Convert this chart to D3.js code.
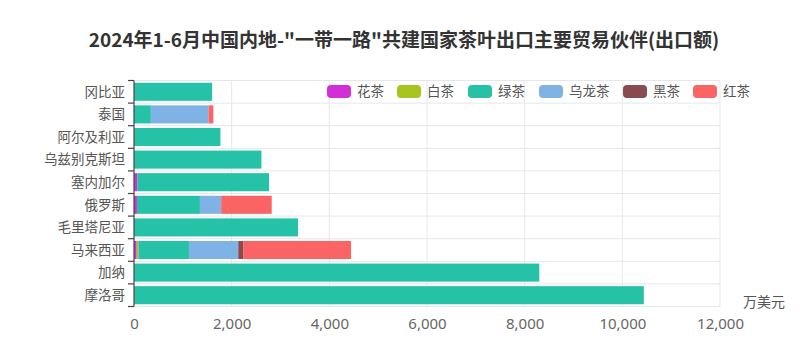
<!DOCTYPE html>
<html><head><meta charset="utf-8">
<script src="https://cdn.jsdelivr.net/npm/d3@7"></script>
<style>body{margin:0;background:#fff}svg{display:block;font-family:"Noto Sans CJK SC","Noto Sans",sans-serif}</style>
</head><body><svg id="c" width="800" height="358"></svg>
<script>
const categories = ["冈比亚","泰国","阿尔及利亚","乌兹别克斯坦","塞内加尔","俄罗斯","毛里塔尼亚","马来西亚","加纳","摩洛哥"];
const seriesNames = ["花茶","白茶","绿茶","乌龙茶","黑茶","红茶"];
const seriesColors = ["#d22fd6","#a8c41f","#25c2a8","#7fb3e6","#8a4b50","#fa6464"];
const huaCha   = [0,   0,    0,    0,    65,   60,   0,    55,   0,    0];
const baiCha   = [0,   0,    0,    0,    0,    0,    0,    35,   0,    0];
const lvCha    = [1600,345,  1770, 2610, 2700, 1290, 3360, 1035, 8300, 10440];
const wulongCha= [0,   1180, 0,    0,    0,    435,  0,    1010, 0,    0];
const heiCha   = [0,   0,    0,    0,    0,    0,    0,    100,  0,    0];
const hongCha  = [0,   100,  0,    0,    0,    1035, 0,    2210, 0,    0];
const xTicks = [0,2000,4000,6000,8000,10000,12000];
const title = '2024年1-6月中国内地-"一带一路"共建国家茶叶出口主要贸易伙伴(出口额)';
const unit = "万美元";

const series = [huaCha,baiCha,lvCha,wulongCha,heiCha,hongCha];
const svg = d3.select("#c");
const L = 134, R = 720, T = 80.5, B = 306.5;
const x = d3.scaleLinear().domain([0,12000]).range([L,R]);
const y = d3.scaleBand().domain(categories).range([T,B]);
const step = y.step();

svg.append("text").attr("x",404).attr("y",47).attr("text-anchor","middle")
  .attr("font-size",19).attr("font-weight","bold").attr("fill","#333").text(title);

// grid
const g = svg.append("g");
xTicks.forEach(t=>{ if(t>0) g.append("line").attr("x1",x(t)).attr("x2",x(t)).attr("y1",T).attr("y2",B).attr("stroke","#e3e8ec"); });
const bounds = categories.map(c=>y(c)).concat([B]);
bounds.forEach(yy=>g.append("line").attr("x1",L).attr("x2",R).attr("y1",yy).attr("y2",yy).attr("stroke","#e3e8ec"));

// stacked bars
const rows = categories.map((c,i)=>{const o={cat:c}; seriesNames.forEach((s,k)=>o[s]=series[k][i]); return o;});
const stack = d3.stack().keys(seriesNames)(rows);
const bh = step*0.8;
stack.forEach((layer,k)=>{
  svg.append("g").selectAll("rect").data(layer).join("rect")
    .attr("x",d=>x(d[0])).attr("width",d=>Math.max(0,x(d[1])-x(d[0])))
    .attr("y",d=>y(d.data.cat)+(step-bh)/2).attr("height",bh)
    .attr("fill",seriesColors[k]);
});

// y axis
const ya = svg.append("g");
ya.append("line").attr("x1",L).attr("x2",L).attr("y1",T).attr("y2",B).attr("stroke","#444").attr("stroke-width",1.2);
bounds.forEach(yy=>ya.append("line").attr("x1",L-6).attr("x2",L).attr("y1",yy).attr("y2",yy).attr("stroke","#444").attr("stroke-width",1.2));
categories.forEach(c=>{
  ya.append("text").attr("x",L-9).attr("y",y(c)+step/2).attr("dy","0.35em").attr("text-anchor","end")
    .attr("font-size",13.5).attr("fill","#555").text(c);
});

// x axis labels
const xa = svg.append("g").attr("transform",`translate(0,${B})`)
  .call(d3.axisBottom(x).tickValues(xTicks).tickFormat(d3.format(",")).tickSize(0).tickPadding(12));
xa.select(".domain").remove();
xa.selectAll("text").attr("font-size",15).attr("fill","#666").attr("font-family",'"Noto Sans","Noto Sans CJK SC",sans-serif');
svg.append("text").attr("x",743).attr("y",307).attr("font-size",14).attr("fill","#555").text(unit);

// legend
const legX = [327,397,468,539,623,693];
seriesNames.forEach((s,k)=>{
  svg.append("rect").attr("x",legX[k]).attr("y",85).attr("width",24).attr("height",13).attr("rx",4).attr("fill",seriesColors[k]);
  svg.append("text").attr("x",legX[k]+30).attr("y",91.5).attr("dy","0.35em").attr("font-size",13.5).attr("fill","#555").text(s);
});
</script></body></html>
